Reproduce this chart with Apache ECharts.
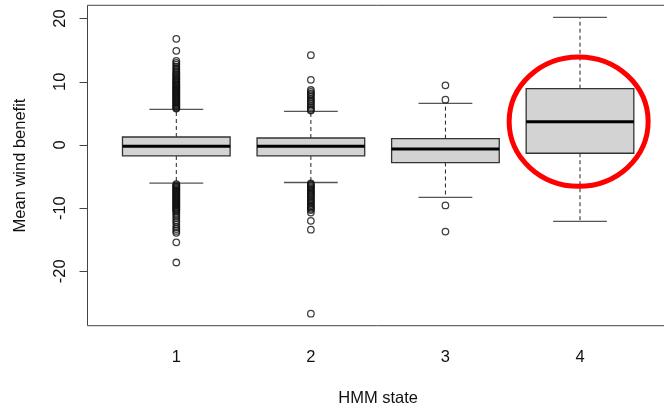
<!DOCTYPE html>
<html>
<head>
<meta charset="utf-8">
<script src="https://cdn.jsdelivr.net/npm/echarts@6/dist/echarts.min.js"></script>
<style>
  html, body { margin: 0; padding: 0; background: #fff; }
  #chart { width: 664px; height: 406px; }
</style>
</head>
<body>
<div id="chart"></div>
<script>
// HMM states on the x axis
var states = [1, 2, 3, 4];
// box stats per state: lower whisker, q1, median, q3, upper whisker
var lowWhisker = [-6.05, -5.94, -8.3, -12.1];
var q1 = [-1.74, -1.74, -2.78, -1.31];
var median = [-0.2, -0.2, -0.63, 3.69];
var q3 = [1.26, 1.1, 1.0, 8.9];
var highWhisker = [5.64, 5.32, 6.58, 20.2];

// outliers, one list per state
var outliers1 = [16.8, 14.9, 13.3, 13.0, 12.7, 12.4, 12.1, 11.9, 11.6, 11.4, 11.2, 11.0,
  10.8, 10.6, 10.45, 10.3, 10.1, 9.95, 9.8, 9.6, 9.45, 9.3, 9.15, 9.0, 8.85, 8.7, 8.55,
  8.4, 8.25, 8.1, 7.95, 7.8, 7.65, 7.5, 7.35, 7.2, 7.05, 6.9, 6.75, 6.6, 6.45, 6.3,
  6.15, 6.0, 5.85, 5.75,
  -6.2, -6.35, -6.5, -6.65, -6.8, -6.95, -7.1, -7.25, -7.4, -7.55, -7.7, -7.85, -8.0,
  -8.15, -8.3, -8.45, -8.6, -8.75, -8.9, -9.05, -9.2, -9.35, -9.5, -9.65, -9.8, -9.95,
  -10.1, -10.25, -10.4, -10.6, -10.9, -11.2, -11.5, -11.9, -12.2, -12.6, -13.0, -13.3,
  -13.6, -13.9, -15.4, -18.6];
var outliers2 = [14.2, 10.3, 8.7, 8.4, 8.1, 7.9, 7.6, 7.3, 7.0, 6.8, 6.5, 6.2, 5.9, 5.6, 5.45,
  -6.1, -6.3, -6.5, -6.7, -6.9, -7.1, -7.3, -7.5, -7.7, -7.9, -8.1, -8.3, -8.6, -8.8,
  -9.0, -9.2, -9.5, -9.7, -9.9, -10.1, -10.3, -10.7, -12.0, -13.4, -26.7];
var outliers3 = [9.43, 7.17, -9.57, -13.7];
var outliers4 = [];

var yTicks = [-20, -10, 0, 10, 20];

var font = 'Liberation Sans, Arial, sans-serif';
var boxData = states.map(function (s, i) {
  return [s, lowWhisker[i], q1[i], median[i], q3[i], highWhisker[i]];
});
var outlierData = [];
[outliers1, outliers2, outliers3, outliers4].forEach(function (list, i) {
  list.forEach(function (v) { outlierData.push([states[i], v]); });
});

function renderBox(params, api) {
  var x = api.value(0);
  var lo = api.value(1), a = api.value(2), m = api.value(3), b = api.value(4), hi = api.value(5);
  var half = 0.4, cap = 0.2;
  function p(xx, yy) { return api.coord([xx, yy]); }
  var topL = p(x - half, b), botR = p(x + half, a);
  var dash = { stroke: '#222', lineWidth: 1, lineDash: [4, 3] };
  var solid = { stroke: '#555', lineWidth: 1.3 };
  return {
    type: 'group',
    children: [
      { type: 'line', shape: { x1: p(x, b)[0], y1: p(x, b)[1], x2: p(x, hi)[0], y2: p(x, hi)[1] }, style: dash },
      { type: 'line', shape: { x1: p(x, a)[0], y1: p(x, a)[1], x2: p(x, lo)[0], y2: p(x, lo)[1] }, style: dash },
      { type: 'line', shape: { x1: p(x - cap, hi)[0], y1: p(x - cap, hi)[1], x2: p(x + cap, hi)[0], y2: p(x + cap, hi)[1] }, style: solid },
      { type: 'line', shape: { x1: p(x - cap, lo)[0], y1: p(x - cap, lo)[1], x2: p(x + cap, lo)[0], y2: p(x + cap, lo)[1] }, style: solid },
      { type: 'rect', shape: { x: topL[0], y: topL[1], width: botR[0] - topL[0], height: botR[1] - topL[1] },
        style: { fill: '#d3d3d3', stroke: '#333', lineWidth: 1.3 } },
      { type: 'line', shape: { x1: p(x - half, m)[0], y1: p(x - half, m)[1], x2: p(x + half, m)[0], y2: p(x + half, m)[1] },
        style: { stroke: '#000', lineWidth: 3 } }
    ]
  };
}

var chart = echarts.init(document.getElementById('chart'));
chart.setOption({
  animation: false,
  grid: {
    left: 87.5, top: 5.3, width: 581.3, height: 320.4,
    show: true, borderColor: '#444', borderWidth: 1,
    containLabel: false, outerBoundsMode: 'none'
  },
  xAxis: {
    type: 'value', min: 0.34, max: 4.66,
    name: 'HMM state', nameLocation: 'middle', nameGap: 64,
    nameTextStyle: { fontSize: 16.5, fontFamily: font, color: '#111' },
    axisLine: { show: false },
    splitLine: { show: false },
    axisTick: { show: true, length: 8, customValues: states, lineStyle: { color: '#444' } },
    axisLabel: { customValues: states, margin: 23, fontSize: 16.5, fontFamily: font, color: '#111' }
  },
  yAxis: {
    type: 'value', min: -28.6, max: 22.1,
    name: 'Mean wind benefit', nameLocation: 'middle', nameGap: 59,
    nameTextStyle: { fontSize: 16.5, fontFamily: font, color: '#111' },
    axisLine: { show: false },
    splitLine: { show: false },
    axisTick: { show: true, length: 8, customValues: yTicks, lineStyle: { color: '#444' } },
    axisLabel: { customValues: yTicks, rotate: 90, margin: 19, fontSize: 16.5, fontFamily: font, color: '#111' }
  },
  series: [
    {
      type: 'custom',
      renderItem: renderBox,
      encode: { x: 0, y: [1, 2, 3, 4, 5] },
      data: boxData,
      silent: true
    },
    {
      type: 'scatter',
      data: outlierData,
      symbol: 'circle',
      symbolSize: 6.5,
      itemStyle: { color: 'rgba(0,0,0,0)', borderColor: '#111', borderWidth: 1.3 },
      silent: true
    }
  ]
});

// red highlight ring around state 4
var c = chart.convertToPixel({ gridIndex: 0 }, [3.99, 3.7]);
chart.setOption({
  graphic: [{
    type: 'ellipse',
    shape: { cx: c[0], cy: c[1], rx: 69.5, ry: 64.7 },
    style: { fill: 'none', stroke: '#f00', lineWidth: 5 },
    z: 100
  }]
});
</script>
</body>
</html>
